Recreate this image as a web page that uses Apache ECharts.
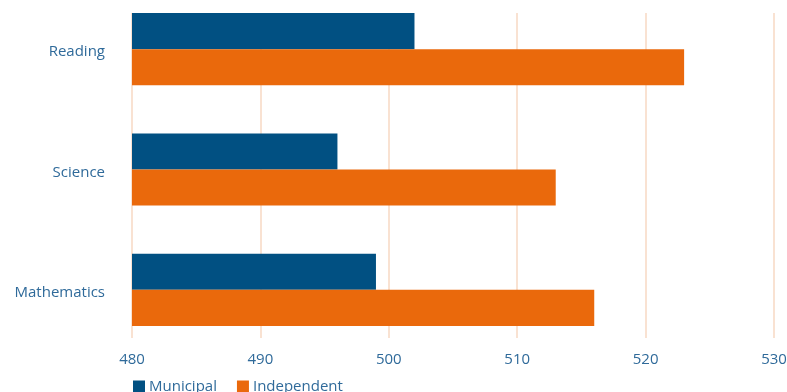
<!DOCTYPE html>
<html>
<head>
<meta charset="utf-8">
<script src="https://cdn.jsdelivr.net/npm/echarts@6/dist/echarts.min.js"></script>
<style>
  html, body { margin: 0; padding: 0; background: #fff; }
  #chart { width: 787px; height: 392px; }
</style>
</head>
<body>
<div id="chart"></div>
<script>
// Subjects, listed bottom to top on the category axis
const subjects = ['Mathematics', 'Science', 'Reading'];
const municipal = [499, 496, 502];
const independent = [516, 513, 523];
const xTicks = [480, 490, 500, 510, 520, 530];

const textColor = '#2f6a9a';
const font = '"Open Sans", "Noto Sans", sans-serif';

const valueAxisBase = {
  type: 'value', min: xTicks[0], max: xTicks[xTicks.length - 1], interval: 10,
  axisLine: { show: false }, axisTick: { show: false }
};

const chart = echarts.init(document.getElementById('chart'));
chart.setOption({
  animation: false,
  textStyle: { fontFamily: font },
  legend: {
    left: 128,
    top: 374,
    itemWidth: 12,
    itemHeight: 12,
    itemGap: 20,
    icon: 'rect',
    textStyle: { color: textColor, fontSize: 15, fontFamily: font, padding: [0, 0, 0, -1] },
    data: ['Municipal', 'Independent']
  },
  grid: [
    // bars
    { left: 132, right: 13, top: -11, bottom: 42, outerBoundsMode: 'none' },
    // gridlines and tick labels
    { left: 132, right: 13, top: 13, bottom: 54, outerBoundsMode: 'none' },
    // subject labels, set slightly below the bar-pair centres
    { left: 132, right: 13, top: -8, bottom: 39, outerBoundsMode: 'none' }
  ],
  xAxis: [
    Object.assign({ gridIndex: 0, axisLabel: { show: false }, splitLine: { show: false } }, valueAxisBase),
    Object.assign({
      gridIndex: 1,
      axisLabel: { color: textColor, fontSize: 15, margin: 14, fontFamily: font },
      splitLine: { show: true, lineStyle: { color: '#f9e2d2', width: 2 } }
    }, valueAxisBase),
    Object.assign({ gridIndex: 2, show: false }, valueAxisBase)
  ],
  yAxis: [
    { gridIndex: 0, type: 'category', data: subjects, show: false },
    { gridIndex: 1, type: 'category', data: subjects, show: false },
    {
      gridIndex: 2, type: 'category', data: subjects,
      axisLine: { show: false }, axisTick: { show: false },
      axisLabel: { color: textColor, fontSize: 15, margin: 27, fontFamily: font }
    }
  ],
  series: [
    {
      name: 'Municipal', type: 'bar', xAxisIndex: 0, yAxisIndex: 0,
      data: municipal, barGap: '0%', barCategoryGap: '40%',
      itemStyle: { color: '#015082' }, z: 3
    },
    {
      name: 'Independent', type: 'bar', xAxisIndex: 0, yAxisIndex: 0,
      data: independent, barGap: '0%', barCategoryGap: '40%',
      itemStyle: { color: '#ea690c' }, z: 3
    }
  ]
});
</script>
</body>
</html>
